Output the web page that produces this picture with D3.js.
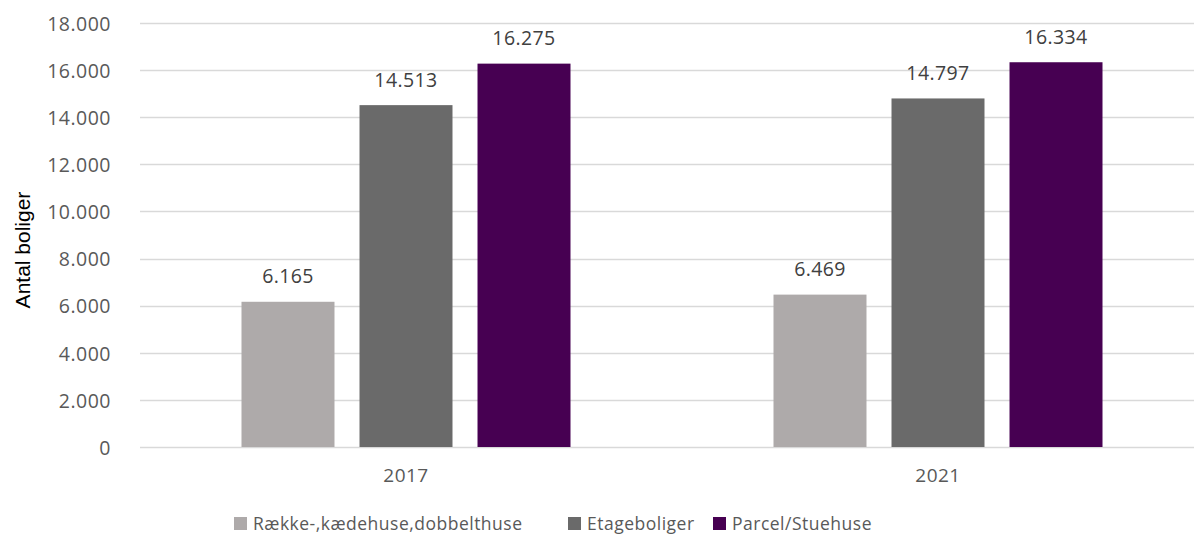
<!DOCTYPE html>
<html><head><meta charset="utf-8">
<script src="https://cdn.jsdelivr.net/npm/d3@7"></script>
<style>body{margin:0;background:#fff}svg{display:block}</style>
</head><body>
<div id="chart"></div>
<script>
const categories = ["2017", "2021"];
const seriesNames = ["Række-,kædehuse,dobbelthuse", "Etageboliger", "Parcel/Stuehuse"];
const rowHouses = [6165, 6469];
const apartments = [14513, 14797];
const detached = [16275, 16334];
const yTicks = [0, 2000, 4000, 6000, 8000, 10000, 12000, 14000, 16000, 18000];
const colors = ["#AEAAAA", "#6A6A6A", "#470052"];

const W = 1194, H = 541;
const seriesValues = [rowHouses, apartments, detached];
const data = categories.map((c, i) => ({cat: c, vals: seriesNames.map((s, j) => ({s, v: seriesValues[j][i], j}))}));

const svg = d3.select("#chart").append("svg").attr("width", W).attr("height", H);
const fmt = v => d3.format(",")(v).replace(/,/g, ".");
const numFont = "'Open Sans', sans-serif";

const y = d3.scaleLinear().domain([0, 18000]).range([447, 23]);
const x0 = d3.scaleBand().domain(categories).range([140, 1204]).paddingInner(0).paddingOuter(0);
const groupW = 329;
const x1 = d3.scaleBand().domain(seriesNames).range([0, groupW]).paddingInner(0.212).paddingOuter(0);
const groupOff = (x0.bandwidth() - groupW) / 2;

// gridlines
svg.append("g").selectAll("line").data(yTicks).join("line")
  .attr("x1", 140).attr("x2", 1204)
  .attr("y1", d => Math.round(y(d)) + 0.5).attr("y2", d => Math.round(y(d)) + 0.5)
  .attr("stroke", "#D9D9D9").attr("stroke-width", 1.3);

// y axis labels
const yAxis = d3.axisLeft(y).tickValues(yTicks).tickFormat(fmt).tickSize(0).tickPadding(0);
const ya = svg.append("g").attr("transform", "translate(111,1)").call(yAxis);
ya.select(".domain").remove();
ya.selectAll("text").attr("font-family", numFont).attr("font-size", 19.5).attr("fill", "#595959").attr("letter-spacing", 0.5);

// x axis labels
const xAxis = d3.axisBottom(x0).tickSize(0).tickPadding(0);
const xa = svg.append("g").attr("transform", "translate(0,468)").call(xAxis);
xa.select(".domain").remove();
xa.selectAll("text").attr("font-family", numFont).attr("font-size", 19).attr("fill", "#595959").attr("letter-spacing", 0.5);

// bars
const groups = svg.append("g").selectAll("g").data(data).join("g")
  .attr("transform", d => `translate(${x0(d.cat) + groupOff},0)`);
groups.selectAll("rect").data(d => d.vals).join("rect")
  .attr("x", d => x1(d.s)).attr("width", x1.bandwidth())
  .attr("y", d => y(d.v)).attr("height", d => y(0) - y(d.v))
  .attr("fill", d => colors[d.j]);
groups.selectAll("text").data(d => d.vals).join("text")
  .attr("x", d => x1(d.s) + x1.bandwidth() / 2)
  .attr("y", d => y(d.v) - 18.5)
  .attr("text-anchor", "middle")
  .attr("font-family", numFont).attr("font-size", 19.5).attr("fill", "#404040").attr("letter-spacing", 0.4)
  .text(d => fmt(d.v));

// y title
svg.append("text").attr("transform", "translate(30,250) rotate(-90)")
  .attr("text-anchor", "middle").attr("font-family", "'Liberation Sans', Arial, sans-serif")
  .attr("font-size", 21).attr("fill", "#000").text("Antal boliger");

// legend
const legendX = [234, 568, 713];
const lg = svg.append("g").selectAll("g").data(seriesNames).join("g")
  .attr("transform", (d, i) => `translate(${legendX[i]},517)`);
lg.append("rect").attr("width", 13).attr("height", 13).attr("fill", (d, i) => colors[i]);
lg.append("text").attr("x", 19).attr("y", 13)
  .attr("font-family", numFont).attr("font-size", 17.5).attr("fill", "#595959").attr("letter-spacing", 0.5)
  .text(d => d);
</script>
</body></html>
